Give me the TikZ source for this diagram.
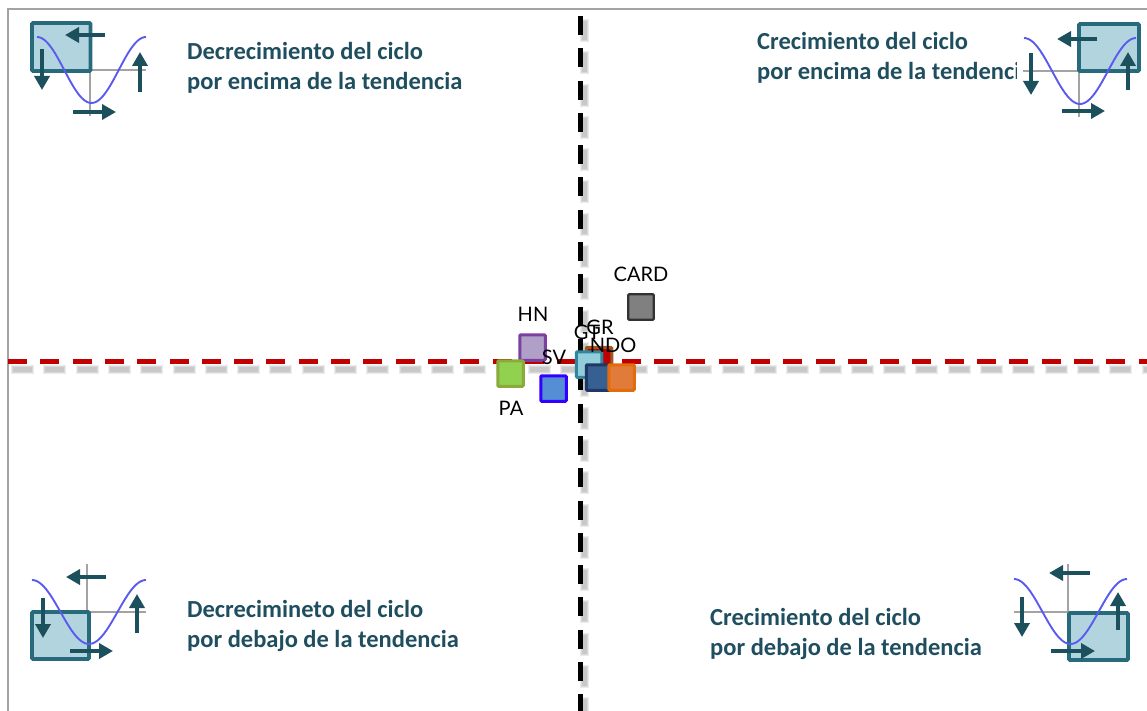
\documentclass[tikz,border=0pt]{standalone}
\usepackage{fontspec}
\setmainfont{Carlito}
\newfontfamily\lblfont{Lato}
\usetikzlibrary{arrows.meta}
\definecolor{headtxt}{HTML}{1F4E5F}
\definecolor{iconfill}{HTML}{B2D4DE}
\definecolor{iconedge}{HTML}{266A7B}
\definecolor{iconarrow}{HTML}{1B505C}
\definecolor{sinecol}{HTML}{5A5AF0}
\definecolor{axiscol}{HTML}{A3A3A3}
\definecolor{redline}{HTML}{C00000}
\definecolor{hnE}{HTML}{7B3FA0}\definecolor{hnF}{HTML}{B0A0C8}
\definecolor{paE}{HTML}{8AAB3A}\definecolor{paF}{HTML}{92D050}
\definecolor{svE}{HTML}{3300FF}\definecolor{svF}{HTML}{558ED5}
\definecolor{grE}{HTML}{9C5A1E}
\definecolor{gtE}{HTML}{31859C}\definecolor{gtF}{HTML}{92CDDC}
\definecolor{niE}{HTML}{1F3864}\definecolor{niF}{HTML}{366092}
\definecolor{doE}{HTML}{E36C0A}\definecolor{doF}{HTML}{E07B39}
\definecolor{caE}{HTML}{323232}\definecolor{caF}{HTML}{808080}
\tikzset{
  heading/.style={anchor=base west,font=\fontsize{24.5}{30}\selectfont\bfseries,text=headtxt,inner sep=0pt},
  lbl/.style={font=\lblfont\fontsize{20}{22}\selectfont,text=black,inner sep=0pt},
  marker/.style={draw=#1,line width=3pt,minimum size=25.5pt,inner sep=0pt,rounded corners=1pt},
  bigarrow/.style={draw=iconarrow,line width=4pt,-{Triangle[length=14pt,width=15pt]}},
  iconbox/.style={draw=iconedge,fill=iconfill,line width=3.6pt,rounded corners=1pt},
  sinewave/.style={draw=sinecol,line width=1.9pt},
  axisline/.style={draw=axiscol,line width=2pt},
  dashblack/.style={draw=black,line width=4.8pt,dash pattern=on 19pt off 13.3pt},
  dashred/.style={draw=redline,line width=5pt,dash pattern=on 19pt off 13.3pt},
  soft/.style={draw=black,opacity=0.08,line cap=butt}
}
% sine: x-left, x-right, y-top, y-bottom
\newcommand{\cycle}[4]{\draw[sinewave] plot[domain=0:1,samples=50,smooth] ({#1+(#2-#1)*\x},{#3+(#4-#3)*(1-cos(360*\x))/2});}
\begin{document}
\begin{tikzpicture}[x=1pt,y=-1pt]
\useasboundingbox (0,0) rectangle (1147,711);
% frame
\coordinate (fa) at (8,711); \coordinate (fb) at (8,9); \coordinate (fc) at (1147,9);
\draw[axisline] (fa) -- (fb) -- (fc);
% soft shadows: layers, wider and longer outwards
\coordinate (va) at (580.2,16); \coordinate (vb) at (580.2,711);
\coordinate (ha) at (8,361.5); \coordinate (hb) at (1147,361.5);
\foreach \w/\on/\off/\back in {9/23/9.3/2,7/21/11.3/1,5/19/13.3/0}{
  \draw[soft,line width=\w pt,dash pattern=on \on pt off \off pt] ([shift={(4.5,5-\back)}]va) -- ([shift={(4.5,5)}]vb);
  \draw[soft,line width=\w pt,dash pattern=on \on pt off \off pt] ([shift={(5-\back,7.5)}]ha) -- ([shift={(5,7.5)}]hb);
}
\draw[dashred] (ha) -- (hb);
\draw[dashblack] (va) -- (vb);
% markers
\node[marker=hnE,fill=hnF] (mHN) at (532.5,347.5) {};
\node[marker=paE,fill=paF] (mPA) at (510.5,373.5) {};
\node[marker=svE,fill=svF] (mSV) at (553.5,388.5) {};
\node[marker=grE,fill=redline] (mGR) at (599,360) {};
\node[marker=gtE,fill=gtF] (mGT) at (589,364.5) {};
\node[marker=niE,fill=niF] (mNI) at (599,377.5) {};
\node[marker=doE,fill=doF] (mDO) at (621.5,377.5) {};
\node[marker=caE,fill=caF,line width=2.2pt] (mCARD) at (641,307) {};
% marker labels
\node[lbl] (tCARD) at (641,274) {CARD};
\node[lbl] (tHN) at (533,314) {HN};
\node[lbl] (tGR) at (600,327) {GR};
\node[lbl] (tGT) at (587,332) {GT};
\node[lbl] (tNDO) at (613,345) {NDO};
\node[lbl] (tSV) at (554,357) {SV};
\node[lbl] (tPA) at (511,408) {PA};
% headings
\node[heading] (h1a) at (187,59.7) {Decrecimiento del ciclo};
\node[heading] (h1b) at (187,89.7) {por encima de la tendencia};
\node[heading] (h2a) at (757,49.7) {Crecimiento del ciclo};
\node[heading] (h2b) at (757,79.7) {por encima de la tendencia};
\node[heading] (h3a) at (187,617.7) {Decrecimineto del ciclo};
\node[heading] (h3b) at (187,647.7) {por debajo de la tendencia};
\node[heading] (h4a) at (710,625.7) {Crecimiento del ciclo};
\node[heading] (h4b) at (710,655.7) {por debajo de la tendencia};
% top-left icon
\draw[axisline] (90,70) -- (146,70) (90,70) -- (90,116);
\draw[iconbox] (32,23) rectangle (90.5,71);
\cycle{37}{146}{37}{103}
\draw[bigarrow] (105,35) -- (65,35);
\draw[bigarrow] (42,49) -- (42,90);
\draw[bigarrow] (140,92) -- (140,52);
\draw[bigarrow] (73,112) -- (116,112);
% top-right icon (its white ground hides the end of the heading)
\fill[white] (1017,24) rectangle (1040,100);
\draw[axisline] (1023,71) -- (1079,71) (1079,71) -- (1079,117);
\draw[iconbox] (1079,24) rectangle (1139,71);
\cycle{1024}{1136}{38}{104}
\draw[bigarrow] (1097,39) -- (1057,39);
\draw[bigarrow] (1031,53) -- (1031,95);
\draw[bigarrow] (1128,90) -- (1128,52);
\draw[bigarrow] (1062,111) -- (1105,111);
% bottom-left icon
\draw[axisline] (87,564) -- (87,612) (87,612) -- (146,612);
\draw[iconbox] (32,612) rectangle (89,659);
\cycle{32}{146}{580}{644}
\draw[bigarrow] (106,577) -- (66,577);
\draw[bigarrow] (43,598) -- (43,638);
\draw[bigarrow] (137,633) -- (137,594);
\draw[bigarrow] (70,651) -- (113,651);
% bottom-right icon
\draw[axisline] (1068,564) -- (1068,612) (1014,612) -- (1068,612);
\draw[iconbox] (1069,613) rectangle (1128,660);
\cycle{1014}{1127}{579}{644}
\draw[bigarrow] (1090,573) -- (1049,573);
\draw[bigarrow] (1022,597) -- (1022,637);
\draw[bigarrow] (1118,630) -- (1118,592);
\draw[bigarrow] (1051,651) -- (1095,651);
\end{tikzpicture}
\end{document}
